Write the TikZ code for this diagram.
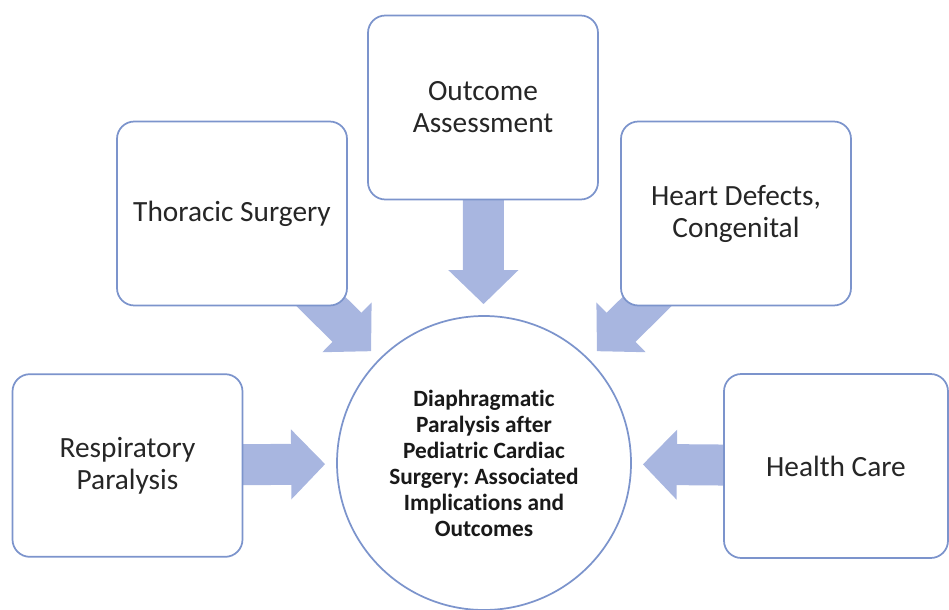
\documentclass[tikz,border=0pt]{standalone}
\usepackage{fontspec}
\setmainfont{Carlito}[Ligatures=NoCommon]
\usetikzlibrary{arrows.meta}
\usetikzlibrary{backgrounds}
\frenchspacing

\definecolor{boxline}{RGB}{124,148,204}
\definecolor{arrowfill}{RGB}{168,182,224}

\tikzset{
  topic/.style={draw=boxline, line width=1.3pt, fill=white, rounded corners=13pt,
    minimum width=172.5pt, minimum height=138pt, align=center,
    font=\fontsize{22}{24}\selectfont, text=black!85},
  hubnode/.style={circle, draw=boxline, line width=1.3pt, fill=white,
    minimum size=220.5pt, inner sep=0pt, align=center,
    font=\fontsize{17.5}{19.5}\selectfont\bfseries, text=black!90},
  blockarrow/.style={draw=arrowfill, line width=30.75pt,
    -{Triangle[width=51pt,length=25.5pt]}, shorten >=8.25pt}
}

\begin{document}
\begin{tikzpicture}[x=0.75pt,y=0.75pt,yscale=-1,xscale=1]
\useasboundingbox (0,0) rectangle (949,610);

%Shape: Circle [hub]
\node [hubnode] (hub) at (484,463) {Diaphragmatic\\Paralysis after\\Pediatric Cardiac\\Surgery: Associated\\Implications and\\Outcomes};

%Shape: Rounded Rectangles
\node [topic] (outcome) at (483,107.5) {Outcome\\Assessment};
\node [topic] (thoracic) at (232,213.5) {Thoracic Surgery};
\node [topic] (heart) at (736,213.5) {Heart Defects,\\Congenital};
\node [topic, minimum height=137pt] (resp) at (127.5,465.5) {Respiratory\\Paralysis};
\node [topic, minimum width=168pt] (health) at (836,466) {Health Care};

%Block Arrows
\begin{scope}[on background layer]
\draw [blockarrow] (outcome.center) -- (hub) ;
\draw [blockarrow] (thoracic.center) -- (hub) ;
\draw [blockarrow] (heart.center) -- (hub) ;
\draw [blockarrow] (resp.center) -- (hub) ;
\draw [blockarrow] (health.center) -- (hub) ;
\end{scope}

\end{tikzpicture}
\end{document}
